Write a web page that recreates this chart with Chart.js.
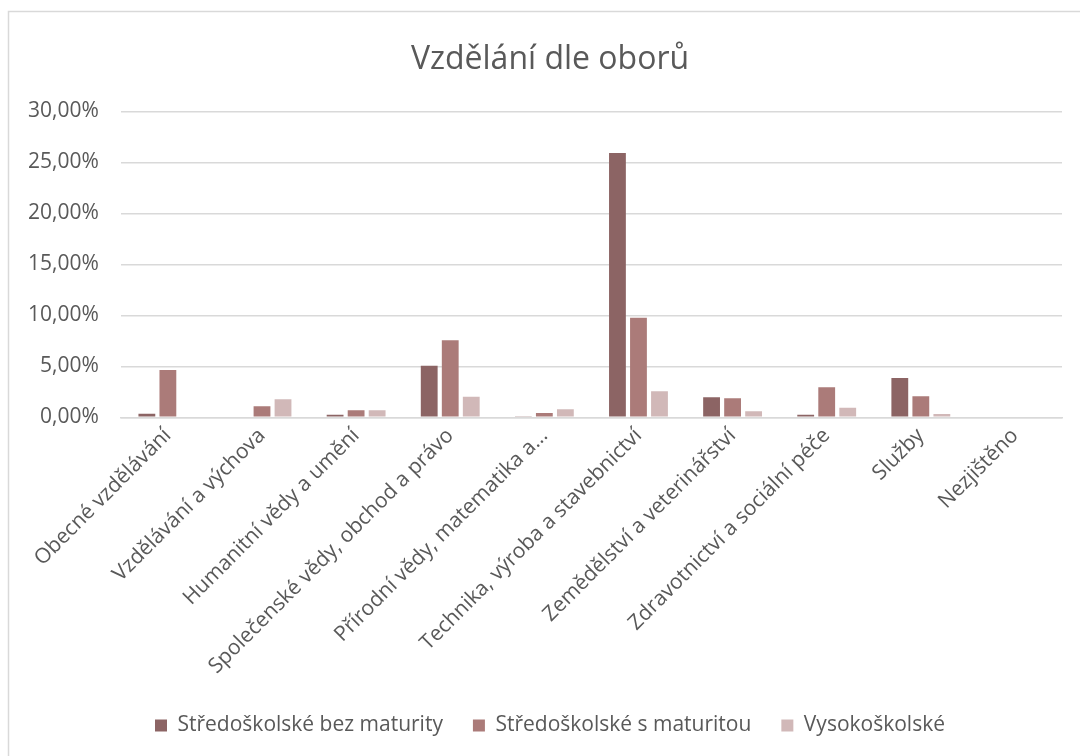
<!DOCTYPE html>
<html>
<head>
<meta charset="utf-8">
<script src="https://cdn.jsdelivr.net/npm/chart.js@4"></script>
<style>
  html, body { margin: 0; padding: 0; background: #fff; }
  #wrap { width: 1080px; height: 756px; position: relative; }
</style>
</head>
<body>
<div id="wrap"><canvas id="chart" width="1080" height="756"></canvas></div>
<script>
const categories = [
  'Obecné vzdělávání',
  'Vzdělávání a výchova',
  'Humanitní vědy a umění',
  'Společenské vědy, obchod a právo',
  'Přírodní vědy, matematika a...',
  'Technika, výroba a stavebnictví',
  'Zemědělství a veterinářství',
  'Zdravotnictví a sociální péče',
  'Služby',
  'Nezjištěno'
]
const seriesNames = ['Středoškolské bez maturity', 'Středoškolské s maturitou', 'Vysokoškolské']
const bezMaturity = [0.35, 0, 0.26, 5.05, 0.1, 25.93, 1.96, 0.26, 3.87, 0]
const sMaturitou = [4.65, 1.08, 0.69, 7.57, 0.42, 9.76, 1.87, 2.95, 2.06, 0]
const vysokoskolske = [0, 1.77, 0.7, 2.03, 0.79, 2.56, 0.59, 0.94, 0.33, 0]
const colors = ['#8c6464', '#ab7b79', '#d1b8b8']

const textColor = '#595959'
const gridColor = '#d9d9d9'
const fontFamily = '"Open Sans", "Noto Sans", sans-serif'

// frame around the whole chart area, like the Excel chart border
const framePlugin = {
  id: 'frame',
  beforeDraw(chart) {
    const ctx = chart.ctx
    ctx.save()
    ctx.fillStyle = '#fff'
    ctx.fillRect(0, 0, chart.width, chart.height)
    ctx.strokeStyle = gridColor
    ctx.lineWidth = 1.5
    ctx.strokeRect(8.5, 11.5, 1200, 900)
    ctx.restore()
  }
}

// title and legend are centred on the whole canvas, not on the padded area
const centerPlugin = {
  id: 'centerBlocks',
  afterLayout(chart) {
    const shift = 16
    if (chart.titleBlock) {
      chart.titleBlock.left += shift
      chart.titleBlock.right += shift
    }
    if (chart.legend) {
      chart.legend.left += shift
      chart.legend.right += shift
    }
  }
}

const datasets = [bezMaturity, sMaturitou, vysokoskolske].map((data, i) => ({
  label: seriesNames[i],
  data: data,
  backgroundColor: colors[i],
  borderWidth: 0,
  categoryPercentage: 0.67,
  barPercentage: 0.8,
}))

new Chart(document.getElementById('chart'), {
  type: 'bar',
  data: { labels: categories, datasets: datasets },
  plugins: [framePlugin, centerPlugin],
  options: {
    responsive: false,
    animation: false,
    layout: { padding: { top: 18, left: 6, right: 18, bottom: 10 } },
    plugins: {
      title: {
        display: true,
        text: 'Vzdělání dle oborů',
        color: textColor,
        font: { family: fontFamily, size: 32, weight: 'normal' },
        padding: { top: 23, bottom: 32 },
      },
      legend: {
        position: 'bottom',
        labels: {
          color: textColor,
          font: { family: fontFamily, size: 21 },
          boxWidth: 12,
          boxHeight: 12,
          padding: 30,
        },
      },
      tooltip: { enabled: false },
    },
    scales: {
      x: {
        grid: { display: false, drawTicks: false },
        border: { color: gridColor, width: 1.5 },
        ticks: {
          color: textColor,
          font: { family: fontFamily, size: 21 },
          maxRotation: 45,
          minRotation: 45,
          autoSkip: false,
          padding: 6,
        },
      },
      y: {
        min: 0,
        max: 30,
        grid: { color: gridColor, lineWidth: 1.5, drawTicks: false },
        border: { display: false },
        ticks: {
          stepSize: 5,
          color: textColor,
          font: { family: fontFamily, size: 21 },
          padding: 22,
          callback: (v) => v.toFixed(2).replace('.', ',') + '%',
        },
      },
    },
  },
})
</script>
</body>
</html>
